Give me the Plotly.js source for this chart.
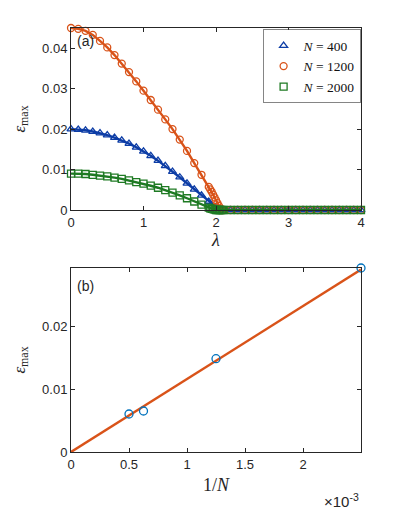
<!DOCTYPE html>
<html>
<head>
<meta charset="utf-8">
<script src="https://cdn.plot.ly/plotly-3.0.1.min.js"></script>
<style>
  html, body { margin: 0; padding: 0; background: #fff; }
  #chart { width: 397px; height: 532px; }
</style>
</head>
<body>
<div id="chart"></div>
<script>
// panel (a): lambda grid, step 0.1 plus a finer run around the transition
const lambdaCoarse = [0,0.1,0.2,0.3,0.4,0.5,0.6,0.7,0.8,0.9,1.0,1.1,1.2,1.3,1.4,1.5,1.6,1.7,1.8,1.9,2.0,
  2.1,2.2,2.3,2.4,2.5,2.6,2.7,2.8,2.9,3.0,3.1,3.2,3.3,3.4,3.5,3.6,3.7,3.8,3.9,4.0];

const eps400 = [0.0200,0.0199,0.0197,0.0194,0.0190,0.0185,0.0179,0.0172,0.0164,0.0155,0.0145,
  0.0134,0.0122,0.0109,0.0095,0.0081,0.0066,0.0051,0.0036,0.0021,0.0008,
  0,0,0,0,0,0,0,0,0,0,0,0,0,0,0,0,0,0,0,0];

const lambda1200 = [0,0.1,0.2,0.3,0.4,0.5,0.6,0.7,0.8,0.9,1.0,1.1,1.2,1.3,1.4,1.5,1.6,1.7,1.8,1.9,
  1.92,1.94,1.96,1.98,2.0,2.02,2.04,2.06,2.08,2.1,
  2.2,2.3,2.4,2.5,2.6,2.7,2.8,2.9,3.0,3.1,3.2,3.3,3.4,3.5,3.6,3.7,3.8,3.9,4.0];
const eps1200 = [0.0450,0.0448,0.0443,0.0433,0.0418,0.0402,0.0383,0.0362,0.0341,0.0318,0.0295,
  0.0272,0.0248,0.0224,0.0200,0.0174,0.0146,0.0116,0.0087,0.0057,
  0.0051,0.0045,0.0038,0.0031,0.0024,0.0017,0.0010,0.0004,0,0,
  0,0,0,0,0,0,0,0,0,0,0,0,0,0,0,0,0,0,0];

const lambda2000 = [0,0.1,0.2,0.3,0.4,0.5,0.6,0.7,0.8,0.9,1.0,1.1,1.2,1.3,1.4,1.5,1.6,1.7,1.8,1.9,
  1.92,1.94,1.96,1.98,2.0,2.02,2.04,2.06,2.08,2.1,
  2.2,2.3,2.4,2.5,2.6,2.7,2.8,2.9,3.0,3.1,3.2,3.3,3.4,3.5,3.6,3.7,3.8,3.9,4.0];
const eps2000 = [0.0090,0.0090,0.0089,0.0087,0.0085,0.0083,0.0080,0.0077,0.0073,0.0069,0.0065,
  0.0060,0.0055,0.0049,0.0043,0.0036,0.0029,0.0021,0.0013,0.0006,
  0.0004,0.0003,0.0002,0.0001,0,0,0,0,0,0,
  0,0,0,0,0,0,0,0,0,0,0,0,0,0,0,0,0,0,0];

// panel (b)
const sizesN = [2000, 1600, 800, 400];
const epsMax = [0.00606, 0.00654, 0.01488, 0.02935];
const fitX = [0, 0.0025];
const fitY = [0, 0.0291];

const cBlue = '#0d3da6';
const cOrange = '#d95319';
const cGreen = '#1e7a23';
const cPoint = '#0072bd';
const axCol = '#262626';

const serif = 'Liberation Serif, DejaVu Serif, serif';
const sans = 'Liberation Sans, Arial, sans-serif';

function lineTrace(x, y, col) {
  return { x: x, y: y, type: 'scatter', mode: 'lines', showlegend: false,
    line: { color: col, width: 2.4 }, xaxis: 'x', yaxis: 'y', hoverinfo: 'skip' };
}
function markTrace(x, y, col, sym, name) {
  return { x: x, y: y, type: 'scatter', mode: 'markers', name: name, cliponaxis: false,
    marker: { symbol: sym, size: 7, color: col, line: { color: col, width: 1.3 } },
    xaxis: 'x', yaxis: 'y' };
}

const traces = [
  lineTrace(lambdaCoarse, eps400, cBlue),
  markTrace(lambdaCoarse, eps400, cBlue, 'triangle-up-open', '<i>N</i> = 400'),
  lineTrace(lambda1200, eps1200, cOrange),
  markTrace(lambda1200, eps1200, cOrange, 'circle-open', '<i>N</i> = 1200'),
  lineTrace(lambda2000, eps2000, cGreen),
  markTrace(lambda2000, eps2000, cGreen, 'square-open', '<i>N</i> = 2000'),
  { x: fitX, y: fitY, type: 'scatter', mode: 'lines', showlegend: false,
    line: { color: cOrange, width: 2.4 }, xaxis: 'x2', yaxis: 'y2' },
  { x: sizesN.map(n => 1 / n), y: epsMax, type: 'scatter', mode: 'markers', showlegend: false,
    cliponaxis: false,
    marker: { symbol: 'circle-open', size: 8, color: cPoint, line: { color: cPoint, width: 1.3 } },
    xaxis: 'x2', yaxis: 'y2' }
];

const axBase = {
  showline: true, linecolor: axCol, linewidth: 1, mirror: 'ticks',
  ticks: 'inside', ticklen: 4, tickcolor: axCol, tickwidth: 1,
  showgrid: false, zeroline: false,
  tickfont: { family: sans, size: 13, color: axCol }
};

const layout = {
  width: 397, height: 532,
  margin: { l: 71, r: 36, t: 28, b: 80 },
  paper_bgcolor: '#fff', plot_bgcolor: '#fff',
  showlegend: true,
  legend: {
    x: 1, xanchor: 'right', y: 0.996, yanchor: 'top',
    bgcolor: '#fff', bordercolor: '#333', borderwidth: 0.6,
    font: { family: serif, size: 13.5, color: '#111' },
    itemwidth: 30, tracegroupgap: 0
  },
  xaxis: Object.assign({}, axBase, {
    domain: [0, 1], range: [0, 4], anchor: 'y',
    tickvals: [0, 1, 2, 3, 4],
    title: { text: '<i>λ</i>', font: { family: serif, size: 18, color: axCol }, standoff: 2 }
  }),
  yaxis: Object.assign({}, axBase, {
    domain: [0.5708, 1], range: [0, 0.045], anchor: 'x',
    tickvals: [0, 0.01, 0.02, 0.03, 0.04], ticktext: ['0', '0.01', '0.02', '0.03', '0.04'],
    title: { text: '<i>ε</i><sub>max</sub>', font: { family: serif, size: 17, color: axCol }, standoff: 12 }
  }),
  xaxis2: Object.assign({}, axBase, {
    domain: [0, 1], range: [0, 0.0025], anchor: 'y2',
    tickvals: [0, 0.0005, 0.001, 0.0015, 0.002], ticktext: ['0', '0.5', '1', '1.5', '2'],
    title: { text: '1/<i>N</i>', font: { family: serif, size: 18, color: axCol }, standoff: 7 }
  }),
  yaxis2: Object.assign({}, axBase, {
    domain: [0, 0.434], range: [0, 0.02935], anchor: 'x2',
    tickvals: [0, 0.01, 0.02], ticktext: ['0', '0.01', '0.02'],
    title: { text: '<i>ε</i><sub>max</sub>', font: { family: serif, size: 17, color: axCol }, standoff: 12 }
  }),
  annotations: [
    { text: '(a)', xref: 'x domain', yref: 'y domain', x: 0.015, y: 0.985,
      xanchor: 'left', yanchor: 'top', showarrow: false,
      font: { family: sans, size: 14, color: axCol } },
    { text: '(b)', xref: 'x2 domain', yref: 'y2 domain', x: 0.015, y: 0.955,
      xanchor: 'left', yanchor: 'top', showarrow: false,
      font: { family: sans, size: 14, color: axCol } },
    { text: '×10<sup>-3</sup>', xref: 'x2 domain', yref: 'y2 domain', x: 1.0, y: -0.2,
      xanchor: 'right', yanchor: 'top', showarrow: false,
      font: { family: sans, size: 15, color: axCol } }
  ]
};

Plotly.newPlot('chart', traces, layout, { displayModeBar: false, staticPlot: true });
</script>
</body>
</html>
